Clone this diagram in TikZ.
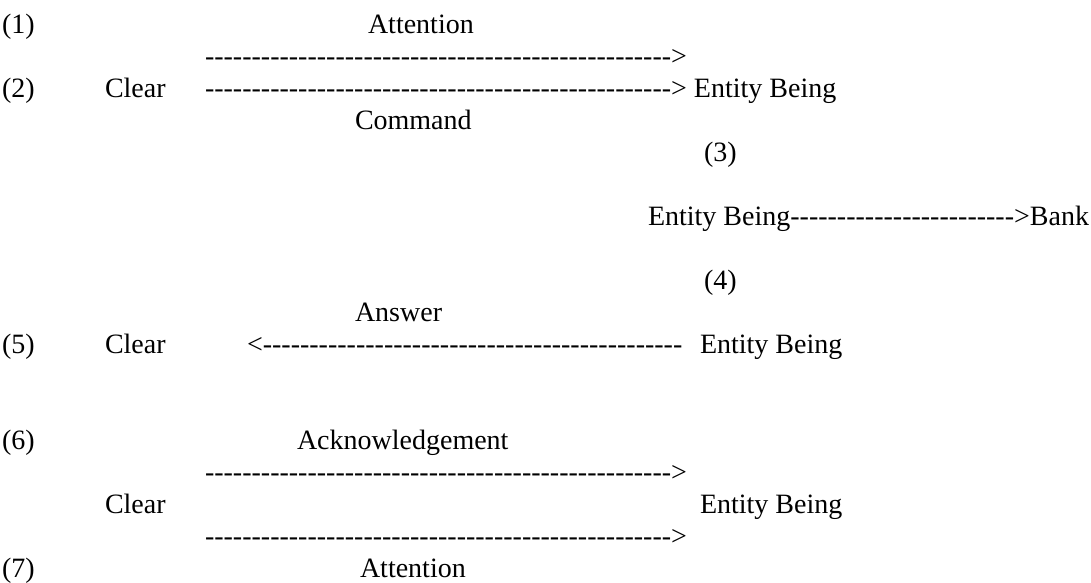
\documentclass[tikz,border=0pt]{standalone}
\usepackage{fontspec}
\setmainfont{Liberation Serif}[Ligatures=TeXOff]
\ExplSyntaxOn
\NewDocumentCommand\hyph{m}{\prg_replicate:nn{#1}{-}}
\ExplSyntaxOff
\begin{document}
\begin{tikzpicture}[x=1pt,y=-1pt,
  txt/.style={anchor=base west,inner sep=0pt,outer sep=0pt,
    font=\fontsize{28}{32}\selectfont}]
\useasboundingbox (0,0) rectangle (1091,582);
% line 1
\node[txt] (n1) at (2,33) {(1)};
\node[txt] (att1) at (368,33) {Attention};
% line 2
\node[txt] (arr1) at (205,65) {\hyph{50}>};
% line 3
\node[txt] (n2) at (2,97) {(2)};
\node[txt] (clear2) at (105,97) {Clear};
\node[txt] (arr2) at (205,97) {\hyph{50}> Entity Being};
% line 4
\node[txt] (cmd) at (355,129) {Command};
% line 5
\node[txt] (n3) at (704,161) {(3)};
% line 7
\node[txt] (bank) at (648,225) {Entity Being\hyph{24}>Bank};
% line 9
\node[txt] (n4) at (704,289) {(4)};
% line 10
\node[txt] (ans) at (355,321) {Answer};
% line 11
\node[txt] (n5) at (2,353) {(5)};
\node[txt] (clear5) at (105,353) {Clear};
\node[txt] (arr5) at (247,353) {<\hyph{45}};
\node[txt] (ent5) at (700,353) {Entity Being};
% line 14
\node[txt] (n6) at (2,449) {(6)};
\node[txt] (ack) at (297,449) {Acknowledgement};
% line 15
\node[txt] (arr6) at (205,481) {\hyph{50}>};
% line 16
\node[txt] (clear6) at (105,513) {Clear};
\node[txt] (ent6) at (700,513) {Entity Being};
% line 17
\node[txt] (arr7) at (205,545) {\hyph{50}>};
% line 18
\node[txt] (n7) at (2,577) {(7)};
\node[txt] (att7) at (360,577) {Attention};
\end{tikzpicture}
\end{document}
